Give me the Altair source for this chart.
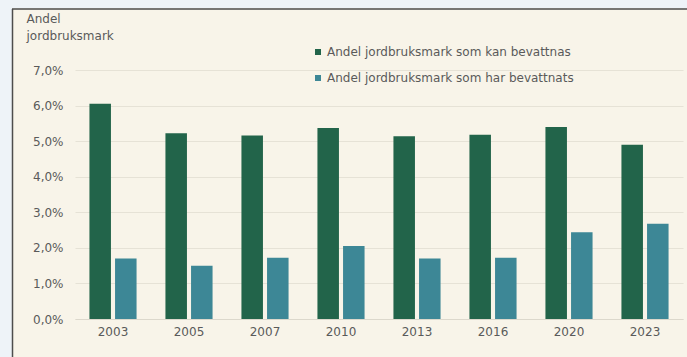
import altair as alt
import pandas as pd

years = ["2003", "2005", "2007", "2010", "2013", "2016", "2020", "2023"]
kan = [0.0605, 0.0522, 0.0516, 0.0537, 0.0514, 0.0518, 0.0540, 0.0490]
har = [0.0170, 0.0150, 0.0172, 0.0205, 0.0170, 0.0172, 0.0244, 0.0268]
series = ["Andel jordbruksmark som kan bevattnas", "Andel jordbruksmark som har bevattnats"]
colors = ["#22644a", "#3d8796"]
y_ticks = [0, 0.01, 0.02, 0.03, 0.04, 0.05, 0.06, 0.07]

rows = []
for i, y in enumerate(years):
    rows.append({"year": y, "series": series[0], "value": kan[i]})
    rows.append({"year": y, "series": series[1], "value": har[i]})
df = pd.DataFrame(rows)

FONT = "DejaVu Sans"
TXT = "#5a5a5a"
W, H = 608, 249
PL, PT, PR, PB = 75, 70, 4, 38

bars = alt.Chart(df).mark_bar().encode(
    x=alt.X("year:N", sort=years,
            scale=alt.Scale(paddingInner=0.38, paddingOuter=0.19),
            axis=alt.Axis(title=None, labelAngle=0, ticks=False, labelPadding=7,
                          domain=True, domainColor="#dcd8cc", labelFont=FONT,
                          labelFontSize=12, labelColor=TXT)),
    xOffset=alt.XOffset("series:N", sort=series,
                        scale=alt.Scale(paddingInner=0.16, paddingOuter=0)),
    y=alt.Y("value:Q", scale=alt.Scale(domain=[0, 0.07], nice=False),
            axis=alt.Axis(values=y_ticks, title=["Andel", "jordbruksmark"],
                          labelExpr="replace(format(datum.value, '.1%'), '.', ',')",
                          domain=False, ticks=False, labelPadding=12,
                          labelFont=FONT, labelFontSize=12, labelColor=TXT,
                          gridColor="#e6e2d6", gridWidth=1.2,
                          titleAngle=0, titleAlign="left", titleBaseline="top",
                          titleX=-49, titleY=-57, titleFont=FONT, titleFontSize=12,
                          titleFontWeight="normal", titleColor=TXT, titleLineHeight=17)),
    color=alt.Color("series:N", sort=series,
                    scale=alt.Scale(domain=series, range=colors),
                    legend=alt.Legend(title=None, orient="none", legendX=237, legendY=-24,
                                      symbolType="square", symbolSize=36,
                                      symbolStrokeWidth=0, labelLimit=400,
                                      labelFont=FONT, labelFontSize=12, labelColor=TXT,
                                      labelOffset=3, rowPadding=14)),
)

# decorative frame (outer strip and border lines)
frame_top = alt.Chart().mark_rect(color="#eef3f8", clip=False).encode(
    x=alt.value(-PL), x2=alt.value(W + PR), y=alt.value(-PT), y2=alt.value(-PT + 8))
frame_left = alt.Chart().mark_rect(color="#eef3f8", clip=False).encode(
    x=alt.value(-PL), x2=alt.value(-PL + 12), y=alt.value(-PT), y2=alt.value(H + PB))
line_top = alt.Chart().mark_rule(color="#4d4d4d", strokeWidth=1.5, clip=False).encode(
    x=alt.value(-PL + 12), x2=alt.value(W + PR), y=alt.value(-PT + 9))
line_left = alt.Chart().mark_rule(color="#4d4d4d", strokeWidth=1.5, clip=False).encode(
    x=alt.value(-PL + 12.5), y=alt.value(-PT + 9), y2=alt.value(H + PB))

chart = alt.layer(bars, frame_top, frame_left, line_top, line_left).properties(
    width=W, height=H,
    background="#f8f4e9",
    padding={"left": PL, "top": PT, "right": PR, "bottom": PB},
    autosize=alt.AutoSizeParams(type="none"),
).configure_view(stroke=None)

chart.save("out.html", embed_options={"renderer": "svg", "actions": False})
